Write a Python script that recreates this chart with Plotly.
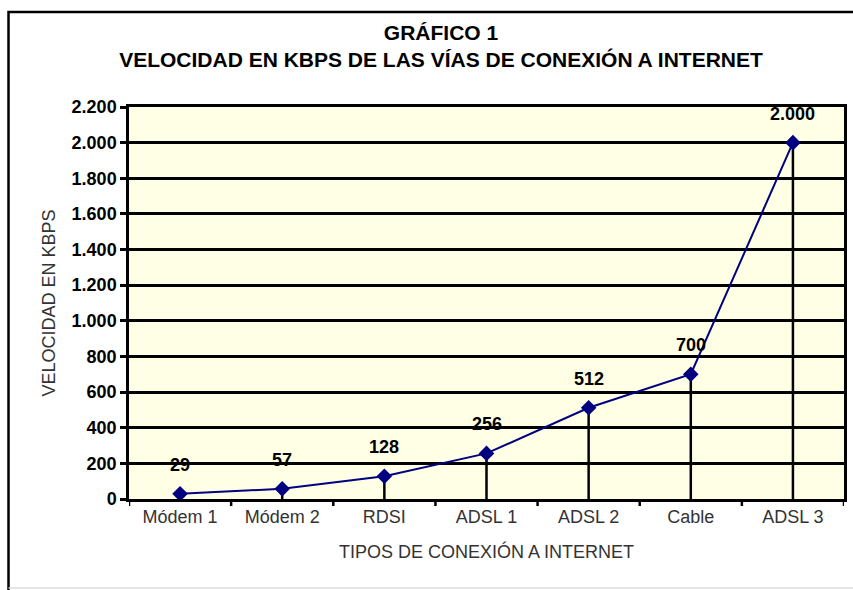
import plotly.graph_objects as go

categories = ["Módem 1", "Módem 2", "RDSI", "ADSL 1", "ADSL 2", "Cable", "ADSL 3"]
speeds = [29, 57, 128, 256, 512, 700, 2000]
labels = [f"{v:,}".replace(",", ".") for v in speeds]

W, H = 853, 590
L, R, T, B = 129, 6, 107, 91
pw, ph = W - L - R, H - T - B

FONT = "Liberation Sans, Arial, sans-serif"

fig = go.Figure()
fig.add_trace(go.Scatter(
    x=categories, y=speeds, mode="lines+markers",
    line=dict(color="#000080", width=2),
    marker=dict(symbol="diamond", size=12, color="#000080"),
    error_y=dict(type="data", symmetric=False, array=[0] * len(speeds),
                 arrayminus=speeds, color="black", thickness=2.5, width=0),
    hoverinfo="skip", showlegend=False,
))

for c, v, t in zip(categories, speeds, labels):
    fig.add_annotation(x=c, y=v, text=f"<b>{t}</b>", showarrow=False, yshift=29,
                       font=dict(family=FONT, size=18, color="black"))

fig.update_layout(
    width=W, height=H,
    margin=dict(l=L, r=R, t=T, b=B),
    paper_bgcolor="white", plot_bgcolor="#FFFFE6",
    separators=",.",
    title=dict(text="<b>GRÁFICO 1</b><br><b>VELOCIDAD EN KBPS DE LAS VÍAS DE CONEXIÓN A INTERNET</b>",
               x=441 / W, xanchor="center", xref="container", y=1 - 40 / H, yanchor="top",
               font=dict(family=FONT, size=21, color="black")),
    font=dict(family=FONT, color="#222222"),
)

fig.update_xaxes(
    type="category", range=[-0.5, 6.5],
    showline=True, linecolor="black", linewidth=2.5, mirror=True,
    showgrid=False, ticks="", tickfont=dict(family=FONT, size=18, color="#333333"),
    title=dict(text="TIPOS DE CONEXIÓN A INTERNET", font=dict(family=FONT, size=18, color="#333333"),
               standoff=20),
    zeroline=False,
)
fig.update_yaxes(
    range=[0, 2200], dtick=200, tickformat=",d",
    showline=True, linecolor="black", linewidth=2.5, mirror=True,
    showgrid=True, gridcolor="black", gridwidth=2.5,
    ticks="outside", ticklen=6, tickwidth=2.5, tickcolor="black",
    tickfont=dict(family=FONT, size=18, color="black", weight="bold"),
    title=dict(text="VELOCIDAD EN KBPS", font=dict(family=FONT, size=18, color="#333333"), standoff=12),
    zeroline=False,
)
# x-axis tick marks between categories (category boundaries)
for k in range(8):
    fig.add_shape(type="line", xref="x", yref="paper", x0=k - 0.5, x1=k - 0.5,
                  y0=0, y1=-7 / ph, line=dict(color="black", width=2.5))

# outer frame
fig.add_shape(type="rect", xref="paper", yref="paper",
              x0=(8 - L) / pw, x1=1 + 20 / pw,
              y0=-(H + 20 - (H - B)) / ph, y1=1 + (T - 12) / ph,
              line=dict(color="black", width=2.5), layer="below")
fig.add_shape(type="line", xref="paper", yref="paper",
              x0=(8 - L) / pw, x1=1 + 20 / pw,
              y0=-(588 - (H - B)) / ph, y1=-(588 - (H - B)) / ph,
              line=dict(color="#dddddd", width=1.5), layer="below")

fig.write_html("out.html", config={"displayModeBar": False},
               post_script="document.body.style.margin='0';")
